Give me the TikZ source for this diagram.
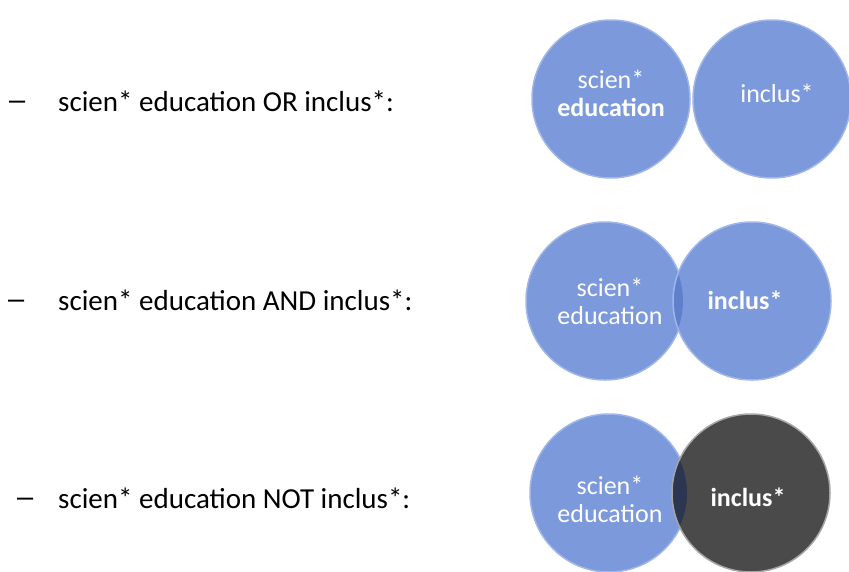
\documentclass[tikz,border=0pt]{standalone}
\usepackage{fontspec}
\setmainfont{Carlito}
\newfontfamily\dashfont{Liberation Sans}
\definecolor{setblue}{RGB}{124,153,219}
\definecolor{setrim}{RGB}{160,182,232}
\definecolor{setdark}{RGB}{74,74,74}
\definecolor{bothblue}{RGB}{96,128,204}
\definecolor{bothdark}{RGB}{44,54,80}
\tikzset{
  setcirc/.style={circle, minimum size=158pt, inner sep=0pt, fill=setblue, draw=setrim, line width=1.5pt},
  darkcirc/.style={setcirc, fill=setdark, draw=gray!70},
  settext/.style={text=white, align=center, font=\fontsize{26}{28}\selectfont},
  query/.style={anchor=west, inner sep=0pt, font=\fontsize{29}{32}\selectfont},
  bullet/.style={query, font=\dashfont\fontsize{29}{32}\selectfont}
}
\begin{document}
\begin{tikzpicture}[x=1pt,y=-1pt]
\useasboundingbox (0,0) rectangle (849,571);

\node[bullet] (d1) at (9,105) {–};
\node[query] (q1) at (58,101) {scien* education OR inclus*:};
\node[bullet] (d2) at (8,304) {–};
\node[query] (q2) at (58,300) {scien* education AND inclus*:};
\node[bullet] (d3) at (17,502) {–};
\node[query] (q3) at (58,498) {scien* education NOT inclus*:};

\node[setcirc] (or1) at (611,99) {};
\node[setcirc] (or2) at (772,99) {};
\node[settext] at (611,93) {scien*\\\textbf{education}};
\node[settext] at (777,93) {inclus*};

\node[setcirc] (and1) at (605,301) {};
\node[setcirc] (and2) at (752,301) {};
\begin{scope}
\clip (and1.center) circle[radius=78pt];
\fill[bothblue] (and2.center) circle[radius=78pt];
\end{scope}
\node[settext] at (610,301) {scien*\\education};
\node[settext, font=\bfseries\fontsize{26}{28}\selectfont] at (745,300) {inclus*};

\node[setcirc] (not1) at (609,493) {};
\node[darkcirc] (not2) at (751,493) {};
\begin{scope}
\clip (not1.center) circle[radius=78pt];
\fill[bothdark] (not2.center) circle[radius=78pt];
\end{scope}
\node[settext] at (610,499) {scien*\\education};
\node[settext, font=\bfseries\fontsize{26}{28}\selectfont] at (748,497) {inclus*};

\end{tikzpicture}
\end{document}
